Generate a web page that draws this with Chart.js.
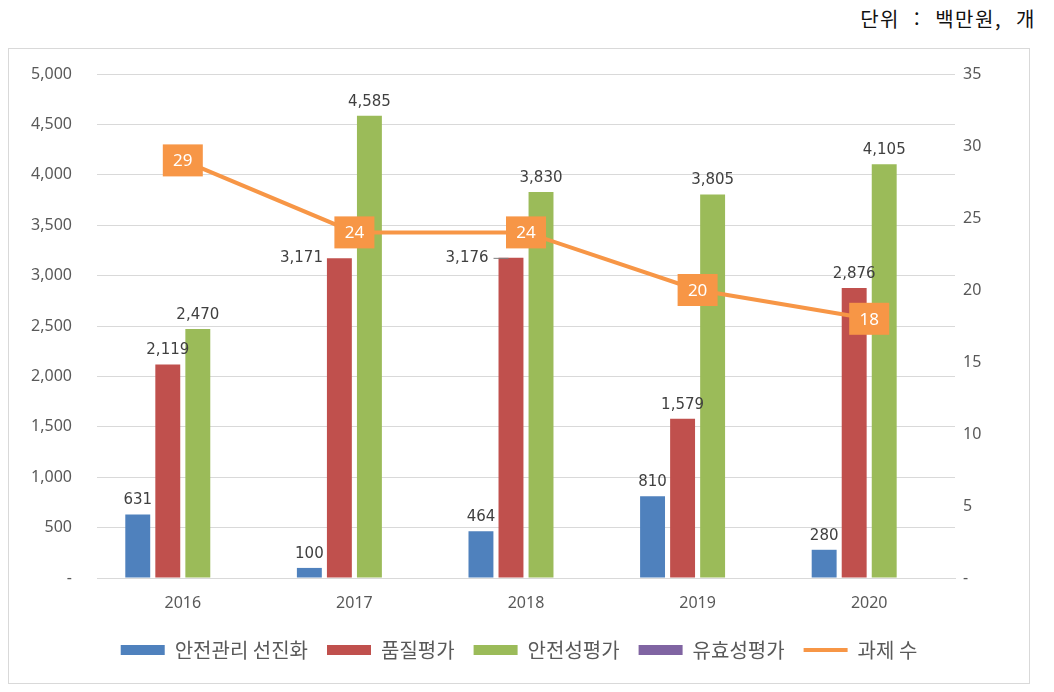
<!DOCTYPE html>
<html lang="ko">
<head>
<meta charset="utf-8">
<title>과제 수 및 예산</title>
<script src="https://cdn.jsdelivr.net/npm/chart.js@4.4.1/dist/chart.umd.min.js"></script>
<style>
  html, body { margin: 0; padding: 0; background: #fff; }
  body { width: 1054px; height: 692px; position: relative; overflow: hidden; }
  .unit {
    position: absolute; top: 4px; right: 18px;
    font: 20px "Noto Sans CJK KR", sans-serif; color: #111;
    letter-spacing: 1.5px; word-spacing: 7px;
  }
  .frame {
    position: absolute; left: 8px; top: 48px;
    width: 1020px; height: 634px;
    border: 1px solid #d9d9d9;
  }
  canvas { display: block; }
</style>
</head>
<body>
<div class="unit">단위 : 백만원, 개</div>
<div class="frame"><canvas id="chart" width="1020" height="634"></canvas></div>

<script>
// ── Data ─────────────────────────────────────────────────────────────────────

const YEARS       = ['2016', '2017', '2018', '2019', '2020'];
const SAFETY_MGMT = [631, 100, 464, 810, 280];      // 안전관리 선진화
const QUALITY     = [2119, 3171, 3176, 1579, 2876]; // 품질평가
const SAFETY_EVAL = [2470, 4585, 3830, 3805, 4105]; // 안전성평가
const EFFICACY    = [0, 0, 0, 0, 0];                // 유효성평가
const TASK_COUNT  = [29, 24, 24, 20, 18];           // 과제 수

const LEFT_TICKS_MAX  = 5000;
const RIGHT_TICKS_MAX = 35;

// ── Helpers ──────────────────────────────────────────────────────────────────

const fmt = v => (v === 0 ? '-' : v.toLocaleString('en-US'));

const ORANGE = '#F79646';
const CLEAR  = 'rgba(0,0,0,0)';

// ── Label plugin ─────────────────────────────────────────────────────────────

const valueLabels = {
  id: 'valueLabels',
  afterDatasetsDraw(chart) {
    const ctx = chart.ctx;
    ctx.save();

    // bar values
    ctx.font = '15px "DejaVu Sans", sans-serif';
    ctx.fillStyle = '#404040';
    ctx.textBaseline = 'middle';
    [0, 1, 2].forEach(di => {
      const meta = chart.getDatasetMeta(di);
      const data = chart.data.datasets[di].data;
      meta.data.forEach((bar, i) => {
        const v = data[i];
        if (!v) return;
        const left = bar.x - bar.width / 2;
        if (di === 1 && (i === 1 || i === 2)) {
          // labels pushed beside the bar in the original
          ctx.textAlign = 'right';
          const gap = i === 2 ? 10 : 4;
          ctx.fillText(fmt(v), left - gap, bar.y);
          if (i === 2) {
            ctx.strokeStyle = '#7f7f7f';
            ctx.lineWidth = 1;
            ctx.beginPath();
            ctx.moveTo(left - 5, bar.y + 0.5);
            ctx.lineTo(left + 10, bar.y + 0.5);
            ctx.stroke();
          }
        } else {
          ctx.textAlign = 'center';
          ctx.fillText(fmt(v), bar.x, bar.y - 14);
        }
      });
    });

    // task count boxes
    const meta = chart.getDatasetMeta(4);
    ctx.font = '17px "Noto Sans", sans-serif';
    ctx.textAlign = 'center';
    meta.data.forEach((pt, i) => {
      ctx.fillStyle = ORANGE;
      ctx.fillRect(pt.x - 20, pt.y - 16, 40, 32);
      ctx.fillStyle = '#fff';
      ctx.fillText(String(TASK_COUNT[i]), pt.x, pt.y + 1);
    });

    ctx.restore();
  },
};

// ── Chart ────────────────────────────────────────────────────────────────────

function barSet(label, data, color) {
  return {
    type: 'bar', label, data,
    backgroundColor: color,
    borderWidth: 0,
    yAxisID: 'y',
    order: 1,
    categoryPercentage: 0.7,
    barPercentage: 0.83,
  };
}

const legendLabels = chart =>
  Chart.defaults.plugins.legend.labels.generateLabels(chart).map(item => {
    item.pointStyle = item.datasetIndex === 4 ? 'line' : 'rect';
    return item;
  });

const tickFont = { family: '"Noto Sans", sans-serif', size: 16 };

new Chart(document.getElementById('chart'), {
  data: {
    labels: YEARS,
    datasets: [
      barSet('안전관리 선진화', SAFETY_MGMT, '#4F81BD'),
      barSet('품질평가', QUALITY, '#C0504D'),
      barSet('안전성평가', SAFETY_EVAL, '#9BBB59'),
      barSet('유효성평가', EFFICACY, '#8064A2'),
      {
        type: 'line',
        label: '과제 수',
        data: TASK_COUNT,
        borderColor: ORANGE,
        backgroundColor: ORANGE,
        borderWidth: 4,
        pointRadius: 0,
        tension: 0,
        yAxisID: 'y2',
        order: 0,
      },
    ],
  },
  options: {
    responsive: false,
    animation: false,
    layout: { padding: { top: 25, bottom: 13 } },
    plugins: {
      tooltip: { enabled: false },
      legend: {
        position: 'bottom',
        labels: {
          usePointStyle: true,
          pointStyleWidth: 44,
          boxHeight: 10,
          padding: 19,
          color: '#595959',
          font: { family: '"Noto Sans CJK KR", sans-serif', size: 20 },
          generateLabels: legendLabels,
          sort: (a, b) => a.datasetIndex - b.datasetIndex,
        },
      },
    },
    scales: {
      x: {
        grid: { display: false, drawTicks: false },
        border: { color: '#d9d9d9' },
        ticks: { color: '#595959', padding: 16, font: tickFont },
        afterFit: s => { s.height = 43; },
      },
      y: {
        position: 'left',
        min: 0, max: LEFT_TICKS_MAX,
        grid: { color: '#d9d9d9', tickLength: 17, tickColor: CLEAR },
        border: { display: false },
        ticks: {
          stepSize: 500, padding: 8, color: '#595959', font: tickFont,
          callback: v => fmt(v),
        },
        afterFit: s => { s.width = 88; },
      },
      y2: {
        position: 'right',
        min: 0, max: RIGHT_TICKS_MAX,
        grid: { display: false, drawTicks: false },
        border: { display: false },
        ticks: {
          stepSize: 5, padding: 8, color: '#595959', font: tickFont,
          callback: v => fmt(v),
        },
        afterFit: s => { s.width = 74; },
      },
    },
  },
  plugins: [valueLabels],
});
</script>
</body>
</html>
